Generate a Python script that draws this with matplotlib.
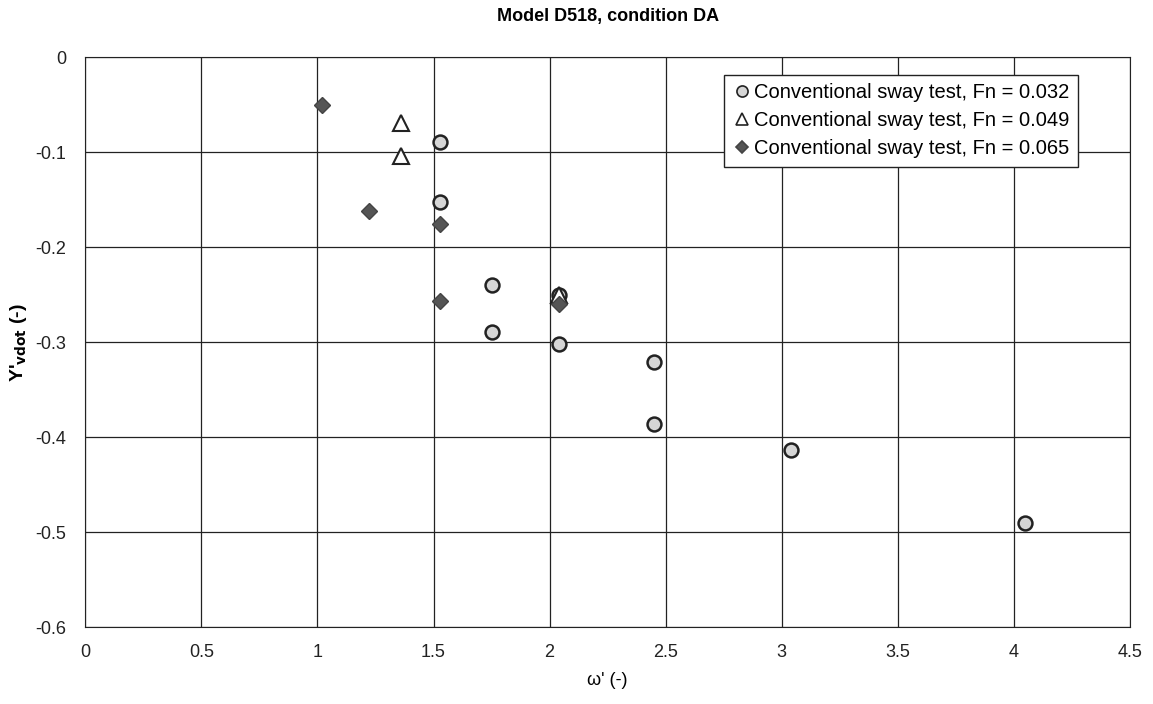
import matplotlib.pyplot as plt

plt.rcParams['font.family'] = ['Liberation Sans', 'DejaVu Sans']

# Fn = 0.032 (circles)
x_032 = [1.53, 1.53, 1.75, 1.75, 2.04, 2.04, 2.45, 2.45, 3.04, 4.05]
y_032 = [-0.089, -0.153, -0.24, -0.289, -0.25, -0.302, -0.321, -0.386, -0.413, -0.49]
# Fn = 0.049 (triangles)
x_049 = [1.36, 1.36, 2.04]
y_049 = [-0.069, -0.104, -0.25]
# Fn = 0.065 (diamonds)
x_065 = [1.02, 1.22, 1.53, 1.53, 2.04]
y_065 = [-0.05, -0.162, -0.176, -0.257, -0.26]

labels = ["Conventional sway test, Fn = 0.032",
          "Conventional sway test, Fn = 0.049",
          "Conventional sway test, Fn = 0.065"]

fig = plt.figure(figsize=(11.53, 7.04), dpi=100)
ax = fig.add_axes([0.074, 0.109, 0.906, 0.81])

ax.plot(x_032, y_032, "o", ms=10, mfc="#d6d6d6", mec="#222222", mew=1.8, ls="none", label=labels[0], zorder=3)
ax.plot(x_049, y_049, "^", ms=12, mfc="white", mec="#222222", mew=1.5, ls="none", label=labels[1], zorder=3)
ax.plot(x_065, y_065, "D", ms=8, mfc="#555555", mec="#444444", mew=1, ls="none", label=labels[2], zorder=4)

ax.set_xlim(0, 4.5)
ax.set_ylim(-0.6, 0)
ax.set_xticks([0, 0.5, 1, 1.5, 2, 2.5, 3, 3.5, 4, 4.5])
ax.set_xticklabels(["0", "0.5", "1", "1.5", "2", "2.5", "3", "3.5", "4", "4.5"])
ax.set_yticks([0, -0.1, -0.2, -0.3, -0.4, -0.5, -0.6])
ax.set_yticklabels(["0", "-0.1", "-0.2", "-0.3", "-0.4", "-0.5", "-0.6"])
ax.grid(True, color="#222222", lw=0.9)
ax.tick_params(axis="both", labelsize=13, length=0, colors="#222222")
ax.tick_params(axis="x", pad=12)
ax.tick_params(axis="y", pad=14)
for s in ax.spines.values():
    s.set_color("#222222")

ax.set_title("Model D518, condition DA", fontsize=13, fontweight="bold", pad=26)
ax.set_xlabel("\u03c9' (-)", fontsize=13, labelpad=8)
ax.set_ylabel("Y'$_{\\mathbf{vdot}}$ (-)", fontsize=14, fontweight="bold", labelpad=4)

leg = ax.legend(loc="upper right", bbox_to_anchor=(0.95, 0.968), fontsize=14.5, fancybox=False,
                framealpha=1, edgecolor="#222222", handletextpad=0.1, handlelength=1,
                borderpad=0.4, labelspacing=0.45, borderaxespad=0)
leg.get_frame().set_linewidth(1)
for h, ms in zip(leg.legend_handles, [8, 9, 6]):
    h.set_markersize(ms)
    h.set_markeredgewidth(1.2)

fig.savefig("out.png", dpi=100)
